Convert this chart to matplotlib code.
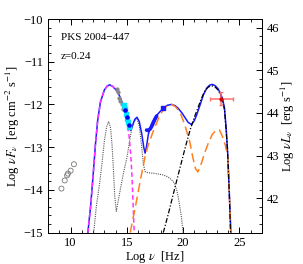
import matplotlib
matplotlib.use('Agg')
import matplotlib.pyplot as plt
from matplotlib.ticker import MultipleLocator

plt.rcParams['font.family'] = ['Liberation Serif', 'DejaVu Serif']
plt.rcParams['mathtext.fontset'] = 'stix'

# total model (blue)
tot_x = [11.53, 11.77, 12.0, 12.2, 12.4, 12.65, 13.0, 13.25, 13.47, 13.75, 13.97, 14.2, 14.4, 14.71,
         15.0, 15.24, 15.35, 15.5, 15.7, 15.9, 16.1, 16.32, 16.5, 16.62, 16.75, 16.91, 17.2, 17.5,
         17.94, 18.3, 18.6, 18.97, 19.3, 19.56, 19.9, 20.15, 20.45, 20.74, 21.0, 21.2, 21.5, 21.8,
         22.1, 22.35, 22.59, 22.85, 23.1, 23.3, 23.5, 23.68, 23.83, 23.97, 24.1, 24.25]
tot_y = [-15.0, -14.4, -13.65, -12.95, -12.38, -11.94, -11.66, -11.57, -11.54, -11.58, -11.64, -11.72,
         -11.83, -12.05, -12.33, -12.55, -12.61, -12.5, -12.35, -12.3, -12.4, -12.68, -13.0, -13.14,
         -12.98, -12.7, -12.45, -12.3, -12.17, -12.08, -12.02, -12.0, -12.03, -12.09, -12.2, -12.3,
         -12.42, -12.47, -12.38, -12.25, -12.02, -11.78, -11.62, -11.55, -11.53, -11.56, -11.63,
         -11.73, -11.86, -12.08, -12.56, -13.15, -14.0, -15.0]

# synchrotron (magenta dashed)
syn_x = [11.53, 11.77, 12.0, 12.2, 12.4, 12.65, 13.0, 13.25, 13.47, 13.75, 13.97, 14.2, 14.4, 14.71,
         15.0, 15.2, 15.35, 15.45, 15.55, 15.65]
syn_y = [-15.0, -14.4, -13.65, -12.95, -12.38, -11.94, -11.66, -11.57, -11.54, -11.58, -11.64, -11.72,
         -11.83, -12.07, -12.4, -12.75, -13.2, -13.65, -14.3, -15.0]

# torus + disk + corona (dotted)
tdc_x = [12.05, 12.3, 12.55, 12.8, 13.0, 13.2, 13.38, 13.55, 13.68, 13.82, 13.92, 14.06, 14.2, 14.41,
         14.7, 15.0, 15.25, 15.44, 15.65, 15.9, 16.1, 16.3, 16.47, 16.62, 16.9, 17.35, 17.8, 18.23,
         18.6, 18.83, 19.1, 19.27, 19.45, 19.56, 19.7, 19.85, 20.0]
tdc_y = [-15.0, -14.35, -13.9, -13.35, -12.85, -12.52, -12.4, -12.55, -12.95, -13.6, -14.15, -14.5,
         -14.3, -14.0, -13.6, -13.25, -12.85, -12.55, -12.38, -12.34, -12.5, -12.95, -13.4, -13.57,
         -13.6, -13.61, -13.63, -13.65, -13.69, -13.73, -13.8, -13.87, -14.02, -14.16, -14.38,
         -14.63, -15.0]

# SSC / EC low (orange long dashed)
ssc_x = [15.3, 15.6, 15.9, 16.18, 16.62, 16.9, 17.35, 17.94, 18.3, 18.6, 18.97, 19.3, 19.71, 20.15,
         20.59, 20.88, 21.1, 21.32, 21.6, 21.9, 22.21, 22.6, 22.95, 23.24, 23.5, 23.75, 23.97, 24.1, 24.25]
ssc_y = [-15.0, -14.6, -14.2, -13.8, -13.22, -12.95, -12.62, -12.25, -12.1, -12.03, -12.0, -12.05,
         -12.17, -12.48, -12.87, -13.26, -13.5, -13.58, -13.4, -13.15, -12.93, -12.7, -12.6, -12.6,
         -12.75, -12.95, -13.2, -14.0, -15.0]

# EC (black dash-dot)
ec_x = [18.24, 18.7, 19.27, 19.71, 20.2, 20.6, 21.0, 21.32, 21.6, 21.9, 22.2, 22.5, 22.8, 23.1, 23.3,
        23.5, 23.68, 23.83, 23.97, 24.1, 24.22]
ec_y = [-15.0, -14.55, -13.95, -13.5, -13.0, -12.62, -12.3, -12.08, -11.88, -11.7, -11.6, -11.56,
        -11.58, -11.66, -11.76, -11.9, -12.12, -12.6, -13.2, -14.0, -15.0]

# observed data
radio_x = [9.18, 9.47, 9.68, 9.76, 10.0, 10.29]
radio_y = [-13.97, -13.78, -13.66, -13.62, -13.55, -13.40]
ir_x = [14.08, 14.2, 14.32, 14.4, 14.55, 14.65]
ir_y = [-11.64, -11.7, -11.85, -11.92, -11.98, -12.1]
uvot_x = [14.78, 14.86, 14.94, 15.02, 15.1, 15.18]
uvot_y = [-12.02, -12.1, -12.22, -12.33, -12.42, -12.52]
opt_x = [14.85, 15.0, 15.15]
opt_y = [-12.13, -12.29, -12.48]
xrt_x = [16.75, 16.85, 16.95, 17.05, 17.15, 17.25, 17.35, 17.45, 17.55, 17.65, 18.2]
xrt_y = [-12.6, -12.61, -12.6, -12.58, -12.54, -12.49, -12.43, -12.37, -12.32, -12.27, -12.08]
gam_x, gam_y = 23.38, -11.87
gam_xerr = [[0.97], [1.03]]
gam_yerr = [[0.14], [0.15]]

fig = plt.figure(figsize=(3.03, 2.64), dpi=100)
ax = fig.add_axes([0.159, 0.119, 0.705, 0.809])

ax.plot(tot_x, tot_y, color='#1a1aff', lw=1.1, zorder=3)
ax.plot(syn_x, syn_y, color='#ff33ff', lw=1.1, ls=(0, (3, 2)), zorder=4)
ax.plot(tdc_x, tdc_y, color='#555555', lw=0.8, ls=(0, (1, 1)), zorder=2)
ax.plot(ssc_x, ssc_y, color='#ff8020', lw=1.1, ls=(0, (6, 3)), zorder=4)
ax.plot(ec_x, ec_y, color='black', lw=0.9, ls=(0, (4, 1.5, 1, 1.5)), zorder=5)

ax.scatter(radio_x, radio_y, s=13, facecolors='none', edgecolors='#777777', lw=0.6, zorder=6)
ax.scatter(ir_x, ir_y, s=4, color='#888888', zorder=6)
ax.scatter(uvot_x, uvot_y, s=5, color='#00e5ff', marker='s', zorder=6)
ax.scatter(opt_x, opt_y, s=5, color='#0000ee', zorder=7)
ax.plot(xrt_x[:-1], xrt_y[:-1], color='#1a1aff', lw=2.6, solid_capstyle='round', zorder=6)
ax.scatter(xrt_x[-1:], xrt_y[-1:], s=8, color='#1a1aff', marker='s', zorder=6)
ax.errorbar([gam_x], [gam_y], xerr=gam_xerr, yerr=gam_yerr, fmt='o', ms=2,
            color='#cc0000', ecolor='#ff7070', elinewidth=1.1, capsize=1.5, zorder=7)

ax.set_xlim(8, 27)
ax.set_ylim(-15, -10)
ax.xaxis.set_major_locator(MultipleLocator(5))
ax.xaxis.set_minor_locator(MultipleLocator(1))
ax.yaxis.set_major_locator(MultipleLocator(1))
ax.yaxis.set_minor_locator(MultipleLocator(0.2))
ax.tick_params(which='both', direction='in', top=True, right=False, labelsize=9)
ax.tick_params(which='major', length=4.5, width=0.7)
ax.tick_params(which='minor', length=2.5, width=0.6)
ax.set_yticklabels(['\u2212%d' % abs(v) for v in ax.get_yticks()])

ax.set_xlabel(r'Log $\nu$  [Hz]', fontsize=9, labelpad=0)
ax.set_ylabel(r'Log $\nu F_\nu$  [erg cm$^{-2}$ s$^{-1}$]', fontsize=9, labelpad=1)

off = 56.2
ax2 = ax.twinx()
ax2.set_ylim(-15 + off, -10 + off)
ax2.yaxis.set_major_locator(MultipleLocator(1))
ax2.yaxis.set_minor_locator(MultipleLocator(0.2))
ax2.tick_params(which='both', direction='in', labelsize=9)
ax2.tick_params(which='major', length=4.5, width=0.7)
ax2.tick_params(which='minor', length=2.5, width=0.6)
ax2.set_ylabel(r'Log $\nu L_\nu$  [erg s$^{-1}$]', fontsize=9, labelpad=0)

ax.text(0.06, 0.9, 'PKS 2004\u2212447', transform=ax.transAxes, fontsize=8)
ax.text(0.06, 0.815, 'z=0.24', transform=ax.transAxes, fontsize=8)

for a in (ax, ax2):
    for s in a.spines.values():
        s.set_linewidth(0.7)

fig.savefig('out.png', dpi=100)
